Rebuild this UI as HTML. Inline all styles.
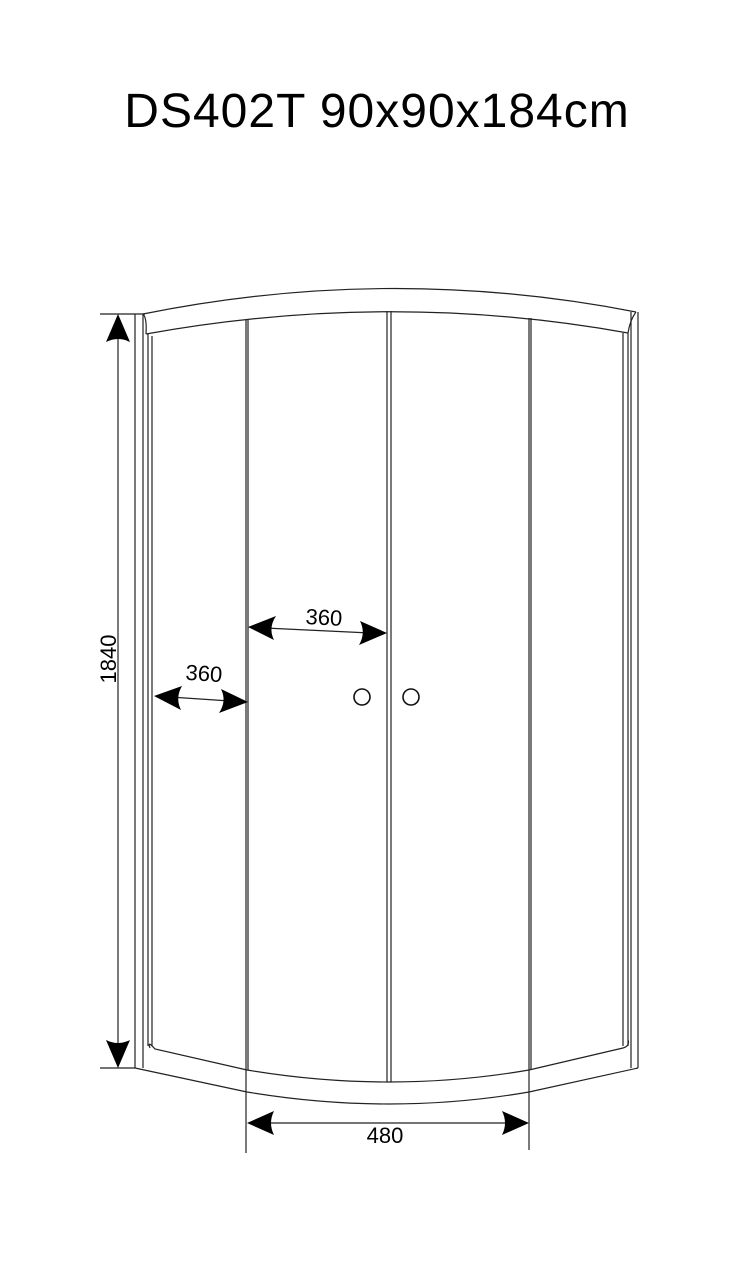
<!DOCTYPE html>
<html><head><meta charset="utf-8"><style>
html,body{margin:0;padding:0;background:#fff;}
svg{display:block;}
</style></head><body>
<svg width="732" height="1267" viewBox="0 0 732 1267" xmlns="http://www.w3.org/2000/svg">
<rect width="732" height="1267" fill="#fff"/>
<text x="377" y="127" text-anchor="middle" font-family="Liberation Sans, sans-serif" font-size="48" letter-spacing="1" fill="#000">DS402T 90x90x184cm</text>
<g fill="none" stroke="#222" stroke-width="1.2">
<path d="M143,314 Q390,264 636,312"/>
<path d="M146,334 Q390,290 628,333"/>
<path d="M143,314 Q147,318 146,334"/>
<path d="M636,312 Q630,320 628,333"/>
<line x1="135" y1="314" x2="135" y2="1068"/>
<line x1="143" y1="314" x2="143" y2="1068"/>
<line x1="148" y1="334" x2="148" y2="1046"/>
<line x1="152" y1="336" x2="152" y2="1046"/>
<line x1="623" y1="333" x2="623" y2="1046"/>
<line x1="628" y1="333" x2="628" y2="1046"/>
<line x1="631" y1="312" x2="631" y2="1068"/>
<line x1="638" y1="312" x2="638" y2="1068"/>
<line x1="246" y1="320" x2="246" y2="1153"/>
<line x1="248" y1="320" x2="248" y2="1070"/>
<line x1="387" y1="311" x2="387" y2="1082"/>
<line x1="391" y1="311" x2="391" y2="1082"/>
<line x1="529" y1="318" x2="529" y2="1150"/>
<line x1="531" y1="318" x2="531" y2="1070"/>
<path d="M150,1048 Q147,1040 155,1049 L247,1070 Q390,1094 529,1070 L623,1048 Q630,1046 628,1040"/>
<path d="M135,1068 L247,1092 Q390,1116 529,1092 L638,1068"/>
<line x1="100" y1="314" x2="145" y2="314"/>
<line x1="100" y1="1068" x2="135" y2="1068"/>
<line x1="118" y1="330" x2="118" y2="1050"/>
<line x1="265" y1="1123" x2="510" y2="1123"/>
<line x1="265" y1="628" x2="370" y2="633"/>
<line x1="170" y1="697" x2="230" y2="701"/>
</g>
<g fill="#000">
<path d="M118,314 L130,342 Q118,336 106,342 Z"/>
<path d="M118,1068 L130,1040 Q118,1046 106,1040 Z"/>
<path d="M247,1123 L274,1111 Q268,1123 274,1135 Z"/>
<path d="M529,1123 L502,1111 Q508,1123 502,1135 Z"/>
<path d="M248,627 L276,616 Q268,628 274,640 Z"/>
<path d="M387,633 L360,621 Q366,633 359,645 Z"/>
<path d="M154,696 L182,686 Q175,698 181,710 Z"/>
<path d="M248,702 L221,689 Q227,701 219,713 Z"/>
</g>
<g fill="none" stroke="#111" stroke-width="1.6">
<circle cx="362" cy="697" r="8"/>
<circle cx="411" cy="697" r="8"/>
</g>
<g font-family="Liberation Sans, sans-serif" font-size="22" fill="#000">
<text x="385" y="1143" text-anchor="middle">480</text>
<text x="324" y="625" text-anchor="middle" transform="rotate(3 324 617)">360</text>
<text x="204" y="681" text-anchor="middle" transform="rotate(4 204 673)">360</text>
<text x="0" y="0" text-anchor="middle" transform="translate(116 659) rotate(-90)">1840</text>
</g>
</svg>
</body></html>
